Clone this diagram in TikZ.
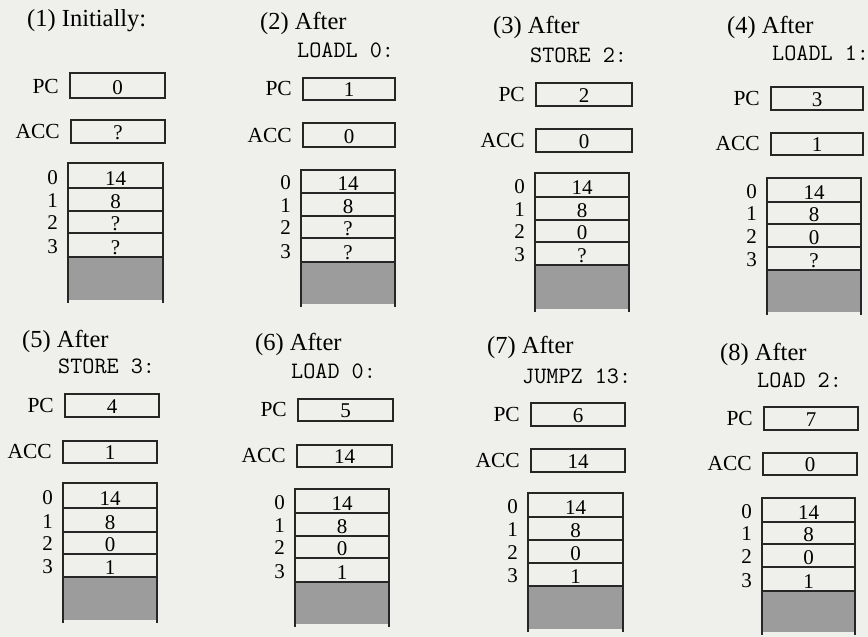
\documentclass[tikz,border=0pt]{standalone}
\usepackage{fontspec}
\setmainfont{Liberation Serif}
\definecolor{paper}{HTML}{EFEFEC}
\definecolor{memgray}{HTML}{9C9C9C}
\tikzset{
 x=1pt, y=-1pt,
 boxline/.style={line width=1.6pt, black!85},
 ttl/.style={anchor=base west, inner sep=0pt, font=\fontsize{24.5}{24.5}\selectfont},
 cmd/.style={anchor=base west, inner sep=0pt, font=\ttfamily\fontsize{23.5}{23.5}\selectfont},
 reglab/.style={anchor=base east, inner sep=0pt, font=\fontsize{21.5}{21.5}\selectfont},
 val/.style={anchor=base, inner sep=0pt, font=\fontsize{21}{21}\selectfont},
 addr/.style={anchor=base east, inner sep=0pt, font=\fontsize{21}{21}\selectfont},
}
\newcommand\regbox[7]{%
 \draw[boxline] (#2,#3) rectangle (#4,#5);
 \node[reglab] (#1lab) at ({#2-11},{#5-5}) {#6};
 \node[val] (#1val) at ({(#2+#4)/2},{#5-3.5}) {#7};
}
\newcommand\memcell[7]{%
 \draw[boxline] (#2,#4) rectangle (#3,#5);
 \node[addr] (#1a) at ({#2-10},{#5-4}) {#6};
 \node[val] (#1v) at ({(#2+#3)/2},{#5-3}) {#7};
}
\newcommand\memgray[4]{%
 \fill[memgray] (#1,#3) rectangle (#2,{#4-3});
 \draw[boxline] (#1,#3) -- (#1,#4) (#2,#3) -- (#2,#4);
}
\begin{document}
\begin{tikzpicture}
\fill[paper] (0,0) rectangle (868,637);
\useasboundingbox (0,0) rectangle (868,637);

% Panel 1
\node[ttl] (t1) at (27,27) {(1) Initially:};
\regbox{pa}{70}{73}{165}{98}{PC}{0}
\regbox{aa}{71}{120}{165}{143}{ACC}{?}
\memgray{68}{163}{257}{303}
\memcell{ma0}{68}{163}{163}{188}{0}{14}
\memcell{ma1}{68}{163}{188}{211}{1}{8}
\memcell{ma2}{68}{163}{211}{233}{2}{?}
\memcell{ma3}{68}{163}{233}{257}{3}{?}

% Panel 2
\node[ttl] (t2) at (260,30) {(2) After};
\node[cmd] (c2) at (297,57) {LOADL 0:};
\regbox{pb}{303}{78}{395}{100}{PC}{1}
\regbox{ab}{303}{123}{395}{147}{ACC}{0}
\memgray{301}{395}{262}{307}
\memcell{mb0}{301}{395}{170}{193}{0}{14}
\memcell{mb1}{301}{395}{193}{216}{1}{8}
\memcell{mb2}{301}{395}{216}{238}{2}{?}
\memcell{mb3}{301}{395}{238}{262}{3}{?}

% Panel 3
\node[ttl] (t3) at (493,34) {(3) After};
\node[cmd] (c3) at (530,62) {STORE 2:};
\regbox{pc}{536}{83}{632}{106}{PC}{2}
\regbox{ac}{536}{129}{632}{152}{ACC}{0}
\memgray{535}{629}{265}{312}
\memcell{mc0}{535}{629}{173}{197}{0}{14}
\memcell{mc1}{535}{629}{197}{220}{1}{8}
\memcell{mc2}{535}{629}{220}{242}{2}{0}
\memcell{mc3}{535}{629}{242}{265}{3}{?}

% Panel 4
\node[ttl] (t4) at (727,34) {(4) After};
\node[cmd] (c4) at (772,60) {LOADL 1:};
\regbox{pd}{771}{87}{863}{110}{PC}{3}
\regbox{ad}{771}{133}{863}{155}{ACC}{1}
\memgray{767}{861}{270}{315}
\memcell{md0}{767}{861}{178}{202}{0}{14}
\memcell{md1}{767}{861}{202}{224}{1}{8}
\memcell{md2}{767}{861}{224}{247}{2}{0}
\memcell{md3}{767}{861}{247}{270}{3}{?}

% Panel 5
\node[ttl] (t5) at (22,347) {(5) After};
\node[cmd] (c5) at (58,373) {STORE 3:};
\regbox{pe}{65}{394}{159}{417}{PC}{4}
\regbox{ae}{63}{441}{157}{463}{ACC}{1}
\memgray{63}{157}{577}{623}
\memcell{me0}{63}{157}{483}{508}{0}{14}
\memcell{me1}{63}{157}{508}{532}{1}{8}
\memcell{me2}{63}{157}{532}{554}{2}{0}
\memcell{me3}{63}{157}{554}{577}{3}{1}

% Panel 6
\node[ttl] (t6) at (255,350) {(6) After};
\node[cmd] (c6) at (291,378) {LOAD 0:};
\regbox{pf}{298}{399}{393}{421}{PC}{5}
\regbox{af}{297}{445}{392}{467}{ACC}{14}
\memgray{295}{389}{582}{627}
\memcell{mf0}{295}{389}{489}{513}{0}{14}
\memcell{mf1}{295}{389}{513}{536}{1}{8}
\memcell{mf2}{295}{389}{536}{558}{2}{0}
\memcell{mf3}{295}{389}{558}{582}{3}{1}

% Panel 7
\node[ttl] (t7) at (487,353) {(7) After};
\node[cmd] (c7) at (522,383) {JUMPZ 13:};
\regbox{pg}{531}{403}{625}{426}{PC}{6}
\regbox{ag}{531}{449}{625}{472}{ACC}{14}
\memgray{528}{623}{586}{632}
\memcell{mg0}{528}{623}{493}{517}{0}{14}
\memcell{mg1}{528}{623}{517}{540}{1}{8}
\memcell{mg2}{528}{623}{540}{563}{2}{0}
\memcell{mg3}{528}{623}{563}{586}{3}{1}

% Panel 8
\node[ttl] (t8) at (720,360) {(8) After};
\node[cmd] (c8) at (757,387) {LOAD 2:};
\regbox{ph}{764}{407}{858}{430}{PC}{7}
\regbox{ah}{763}{453}{857}{475}{ACC}{0}
\memgray{762}{855}{591}{635}
\memcell{mh0}{762}{855}{498}{522}{0}{14}
\memcell{mh1}{762}{855}{522}{544}{1}{8}
\memcell{mh2}{762}{855}{544}{567}{2}{0}
\memcell{mh3}{762}{855}{567}{591}{3}{1}
\end{tikzpicture}
\end{document}
